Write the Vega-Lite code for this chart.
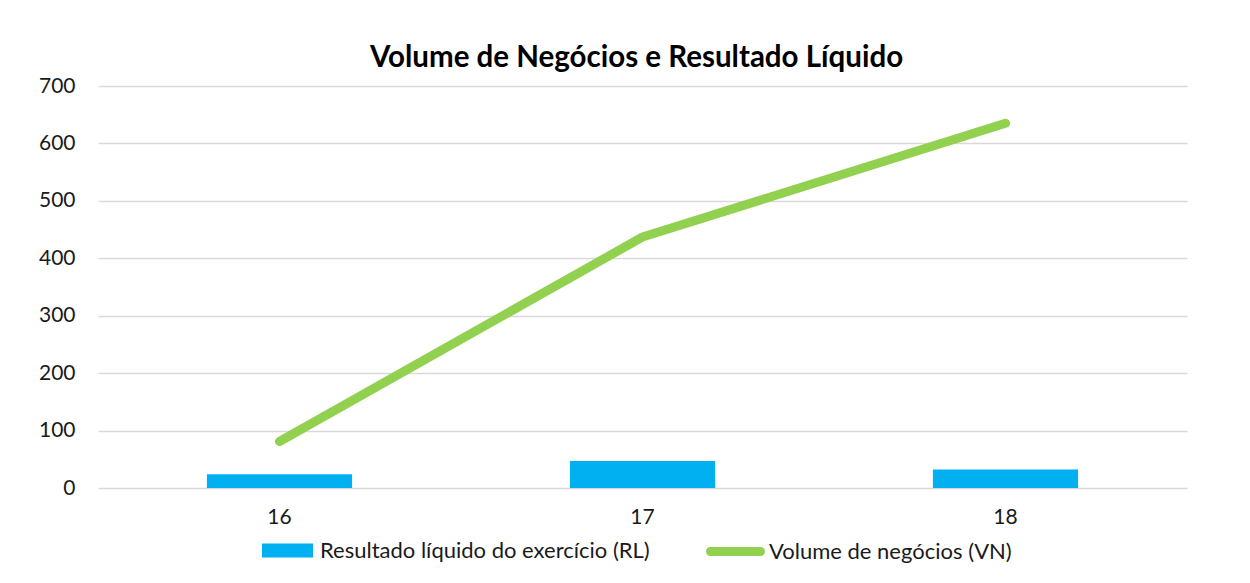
{
  "$schema": "https://vega.github.io/schema/vega-lite/v6.json",
  "width": 1089,
  "height": 402,
  "autosize": {"type": "none"},
  "padding": {"left": 98, "top": 86, "right": 63, "bottom": 95},
  "background": "white",
  "title": {"text": "Volume de Negócios e Resultado Líquido", "font": "Lato", "fontSize": 29.5, "fontWeight": "bold", "color": "#000000", "anchor": "middle", "offset": 2, "dx": -6},
  "data": {"values": [
    {"ano": "16", "RL": 24, "VN": 81},
    {"ano": "17", "RL": 47, "VN": 437},
    {"ano": "18", "RL": 32, "VN": 635}
  ]},
  "encoding": {
    "x": {"field": "ano", "type": "nominal", "title": null, "sort": null,
      "scale": {"paddingInner": 0.6, "paddingOuter": 0.3},
      "axis": {"labelAngle": 0, "labelFont": "Lato", "labelFontSize": 21, "labelColor": "#1a1a1a", "labelPadding": 18, "ticks": false, "domain": false, "grid": false}}
  },
  "layer": [
    {
      "mark": {"type": "bar"},
      "encoding": {
        "y": {"field": "RL", "type": "quantitative", "title": null,
          "scale": {"domain": [0, 700], "nice": false},
          "axis": {"values": [0, 100, 200, 300, 400, 500, 600, 700], "labelFont": "Lato", "labelFontSize": 21, "labelColor": "#1a1a1a", "labelPadding": 23, "ticks": false, "domain": false, "grid": true, "gridColor": "#d9d9d9", "gridWidth": 1.5}},
        "fill": {"datum": "Resultado líquido do exercício (RL)", "type": "nominal",
          "scale": {"range": ["#00b0f0"]},
          "legend": {"title": null, "orient": "none", "legendX": 164, "legendY": 439, "padding": 0,
            "symbolType": "M-1,-0.2745L1,-0.2745L1,0.2745L-1,0.2745Z", "symbolSize": 2601, "symbolStrokeWidth": 0,
            "labelFont": "Lato", "labelFontSize": 22, "labelColor": "#1a1a1a", "labelOffset": 7, "labelLimit": 0}}
      }
    },
    {
      "mark": {"type": "line", "strokeWidth": 9, "strokeCap": "round", "strokeJoin": "round"},
      "encoding": {
        "y": {"field": "VN", "type": "quantitative"},
        "stroke": {"datum": "Volume de negócios (VN)", "type": "nominal",
          "scale": {"range": ["#92d050"]},
          "legend": {"title": null, "orient": "none", "legendX": 608, "legendY": 436, "padding": 0,
            "symbolType": "stroke", "symbolSize": 2500, "symbolStrokeWidth": 9,
            "labelFont": "Lato", "labelFontSize": 22, "labelColor": "#1a1a1a", "labelOffset": 4, "labelLimit": 0,
            "encode": {"symbols": {"update": {"strokeCap": {"value": "round"}}}}}}
      }
    }
  ],
  "config": {"view": {"stroke": null}}
}
